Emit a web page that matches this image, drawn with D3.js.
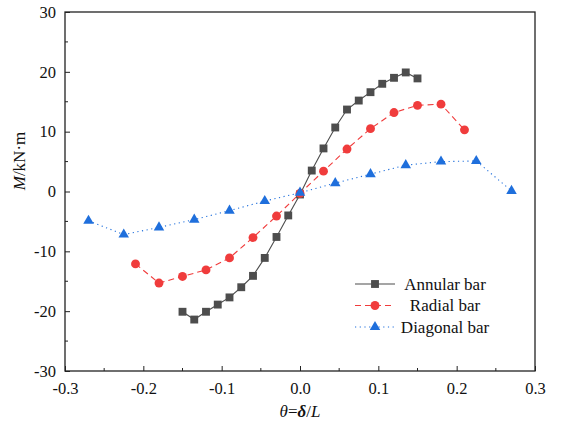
<!DOCTYPE html>
<html>
<head>
<meta charset="utf-8">
<script src="https://cdn.jsdelivr.net/npm/d3@7"></script>
<style>
  body { margin: 0; background: #fff; }
  svg text { font-family: "Liberation Serif", "Times New Roman", Times, serif !important; }
</style>
</head>
<body>
<div id="chart"></div>
<script>
let width = 561;
let height = 426;
let margin = { top: 12, right: 26, bottom: 55, left: 65 };

// data
let annularX = [-0.15, -0.135, -0.12, -0.105, -0.09, -0.075, -0.06, -0.045, -0.03, -0.015, 0, 0.015, 0.03, 0.045, 0.06, 0.075, 0.09, 0.105, 0.12, 0.135, 0.15];
let annularM = [-20.1, -21.4, -20.1, -18.9, -17.7, -16.0, -14.1, -11.1, -7.6, -4.0, -0.5, 3.5, 7.2, 10.7, 13.7, 15.2, 16.6, 18.0, 19.0, 19.9, 18.9];

let radialX = [-0.21, -0.18, -0.15, -0.12, -0.09, -0.06, -0.03, 0, 0.03, 0.06, 0.09, 0.12, 0.15, 0.18, 0.21];
let radialM = [-12.1, -15.3, -14.2, -13.1, -11.1, -7.7, -4.1, -0.3, 3.4, 7.1, 10.5, 13.2, 14.4, 14.6, 10.3];

let diagonalX = [-0.27, -0.225, -0.18, -0.135, -0.09, -0.045, 0, 0.045, 0.09, 0.135, 0.18, 0.225, 0.27];
let diagonalM = [-4.9, -7.2, -6.0, -4.7, -3.2, -1.6, -0.2, 1.4, 2.9, 4.4, 5.0, 5.1, 0.1];

let xTicks = [-0.3, -0.2, -0.1, 0.0, 0.1, 0.2, 0.3];
let yTicks = [-30, -20, -10, 0, 10, 20, 30];

let series = [
  { name: "Annular bar", xs: annularX, ys: annularM, color: "#4d4d4d", dash: null, symbol: d3.symbolSquare, size: 62 },
  { name: "Radial bar", xs: radialX, ys: radialM, color: "#f03c3c", dash: "6,4", symbol: d3.symbolCircle, size: 62 },
  { name: "Diagonal bar", xs: diagonalX, ys: diagonalM, color: "#1f6fdc", dash: "1.2,3.5", symbol: d3.symbolTriangle, size: 48 }
];

let serif = '"Liberation Serif", "Times New Roman", serif';

let svg = d3.select('#chart').append('svg')
  .attr('width', width)
  .attr('height', height);

let x = d3.scaleLinear().domain([-0.3, 0.3]).range([margin.left, width - margin.right]);
let y = d3.scaleLinear().domain([-30, 30]).range([height - margin.bottom, margin.top]);

let plotW = width - margin.left - margin.right;
let plotH = height - margin.top - margin.bottom;

// frame
svg.append('rect')
  .attr('x', margin.left).attr('y', margin.top)
  .attr('width', plotW).attr('height', plotH)
  .attr('fill', 'none').attr('stroke', '#222').attr('stroke-width', 1.3);

// plain hyphen for negatives, like the original
let fmtX = d => d3.format('.1f')(d).replace('−', '-');
let fmtY = d => String(d);

// bottom axis, ticks pointing inward
let xAxis = d3.axisBottom(x).tickValues(xTicks).tickSize(-5).tickPadding(11).tickFormat(fmtX);
let gx = svg.append('g').attr('transform', `translate(0,${height - margin.bottom})`).call(xAxis);
let xMinor = [-0.25, -0.15, -0.05, 0.05, 0.15, 0.25];
gx.selectAll('.minor').data(xMinor).enter().append('line')
  .attr('x1', d => x(d)).attr('x2', d => x(d)).attr('y1', 0).attr('y2', -3)
  .attr('stroke', '#222');

let yAxis = d3.axisLeft(y).tickValues(yTicks).tickSize(-5).tickPadding(9).tickFormat(fmtY);
let gy = svg.append('g').attr('transform', `translate(${margin.left},0)`).call(yAxis);
let yMinor = [-25, -15, -5, 5, 15, 25];
gy.selectAll('.minor').data(yMinor).enter().append('line')
  .attr('y1', d => y(d)).attr('y2', d => y(d)).attr('x1', 0).attr('x2', 3)
  .attr('stroke', '#222');

svg.selectAll('.domain').remove();
gx.attr('font-family', serif).attr('font-size', 16.5);
gy.attr('font-family', serif).attr('font-size', 16.5);
svg.selectAll('.tick line').attr('stroke', '#222');
svg.selectAll('.tick text').attr('fill', '#111');

// axis titles
let xt = svg.append('text')
  .attr('x', x(0)).attr('y', 417)
  .attr('text-anchor', 'middle')
  .attr('font-family', serif)
  .attr('font-size', 17).attr('fill', '#111');
xt.append('tspan').style('font-style', 'italic').text('θ');
xt.append('tspan').text('=');
xt.append('tspan').style('font-style', 'italic').style('font-weight', 'bold').text('δ');
xt.append('tspan').text('/');
xt.append('tspan').style('font-style', 'italic').text('L');

let yt = svg.append('text')
  .attr('transform', `translate(25,161) rotate(-90)`)
  .attr('text-anchor', 'middle')
  .attr('font-family', serif)
  .attr('font-size', 17).attr('fill', '#111');
yt.append('tspan').style('font-style', 'italic').text('M');
yt.append('tspan').text('/kN·m');

// lines and symbols
let line = d3.line().x(d => x(d[0])).y(d => y(d[1]));

series.forEach(s => {
  let pts = s.xs.map((v, i) => [v, s.ys[i]]);
  svg.append('path')
    .datum(pts)
    .attr('d', line)
    .attr('fill', 'none')
    .attr('stroke', s.color)
    .attr('stroke-width', 1.1)
    .attr('stroke-dasharray', s.dash);
});

series.forEach(s => {
  let pts = s.xs.map((v, i) => [v, s.ys[i]]);
  svg.append('g').selectAll('path')
    .data(pts)
    .enter()
    .append('path')
    .attr('d', d3.symbol().type(s.symbol).size(s.size))
    .attr('transform', d => `translate(${x(d[0])},${y(d[1])})`)
    .attr('fill', s.color);
});

// legend
let legend = svg.append('g').attr('transform', 'translate(355,284)');
series.forEach((s, i) => {
  let g = legend.append('g').attr('transform', `translate(0,${i * 21.5})`);
  g.append('line')
    .attr('x1', 0).attr('x2', 40).attr('y1', 0).attr('y2', 0)
    .attr('stroke', s.color).attr('stroke-width', 1.1)
    .attr('stroke-dasharray', s.dash);
  g.append('path')
    .attr('d', d3.symbol().type(s.symbol).size(s.size))
    .attr('transform', 'translate(20,0)')
    .attr('fill', s.color);
  g.append('text')
    .attr('x', 90).attr('y', 5.5)
    .attr('text-anchor', 'middle')
    .attr('font-family', serif)
    .attr('font-size', 17).attr('fill', '#111')
    .text(s.name);
});
</script>
</body>
</html>
